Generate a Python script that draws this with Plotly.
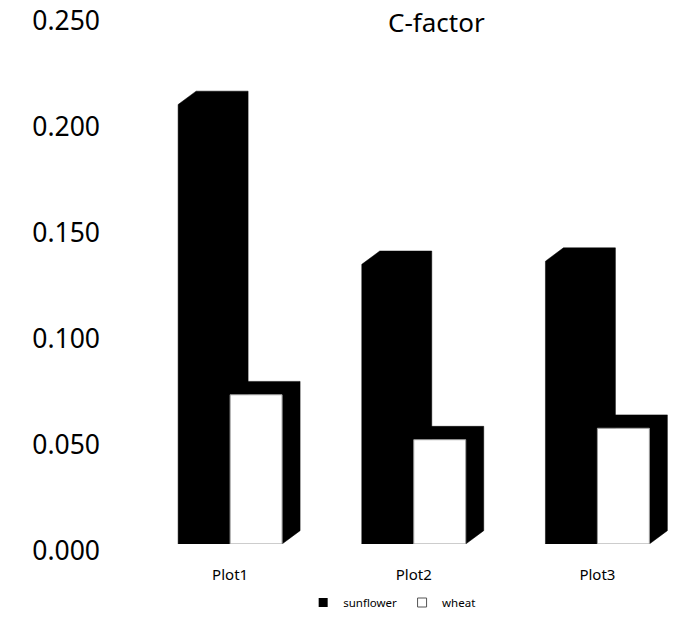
import plotly.graph_objects as go

# Chart data
categories = ["Plot1", "Plot2", "Plot3"]
sunflower = [0.2073, 0.1319, 0.1334]
wheat = [0.0704, 0.0492, 0.0546]
y_ticks = [0.0, 0.05, 0.10, 0.15, 0.20, 0.25]

# Column geometry (axis units): face width and the oblique depth offset
BAR_W = 0.283
DEPTH_X = 0.098
DEPTH_Y = 0.0063

FONT = "Noto Sans"


def solid_prism(x0, x1, v):
    """Outline of a column drawn with its top and right side visible."""
    xs = [x0, x0, x0 + DEPTH_X, x1 + DEPTH_X, x1 + DEPTH_X, x1, x0]
    ys = [0, v, v + DEPTH_Y, v + DEPTH_Y, DEPTH_Y, 0, 0]
    return xs, ys


def depth_only(x0, x1, v):
    """Top and right side of a column (L-shaped band)."""
    xs = [x0, x0 + DEPTH_X, x1 + DEPTH_X, x1 + DEPTH_X, x1, x1, x0]
    ys = [v, v + DEPTH_Y, v + DEPTH_Y, DEPTH_Y, 0, v, v]
    return xs, ys


def join(polys):
    xs, ys = [], []
    for px, py in polys:
        xs += px + [None]
        ys += py + [None]
    return xs, ys


fig = go.Figure()

# Sunflower columns: solid black prisms left of each category centre
sx, sy = join([solid_prism(i - BAR_W, i, v) for i, v in enumerate(sunflower)])
fig.add_trace(go.Scatter(
    x=sx, y=sy, mode="lines", fill="toself", fillcolor="black",
    line=dict(color="black", width=0.5), hoverinfo="skip", showlegend=False))

# Wheat columns: black top/side, white front face
wx, wy = join([depth_only(i, i + BAR_W, v) for i, v in enumerate(wheat)])
fig.add_trace(go.Scatter(
    x=wx, y=wy, mode="lines", fill="toself", fillcolor="black",
    line=dict(color="black", width=0.5), hoverinfo="skip", showlegend=False))

fx, fy = join([([i, i, i + BAR_W, i + BAR_W, i], [0, v, v, 0, 0])
               for i, v in enumerate(wheat)])
fig.add_trace(go.Scatter(
    x=fx, y=fy, mode="lines", fill="toself", fillcolor="white",
    line=dict(color="#9a9a9a", width=1), hoverinfo="skip", showlegend=False))

# Legend entries
fig.add_trace(go.Scatter(
    x=[None], y=[None], mode="markers", name="sunflower",
    marker=dict(symbol="square", size=9, color="black")))
fig.add_trace(go.Scatter(
    x=[None], y=[None], mode="markers", name="wheat",
    marker=dict(symbol="square", size=9, color="white",
                line=dict(color="#555555", width=1))))

fig.update_layout(
    width=676, height=617,
    margin=dict(l=150, r=0, t=14, b=69),
    paper_bgcolor="white", plot_bgcolor="white",
    font=dict(family=FONT, color="black"),
    showlegend=True,
    legend=dict(orientation="h", x=0.4604, xanchor="center",
                y=-0.1105, yanchor="middle",
                font=dict(size=11.5, family=FONT, color="black"),
                itemwidth=30, bgcolor="rgba(0,0,0,0)"),
    annotations=[dict(text="C-factor", x=0.545, y=0.985,
                      xref="paper", yref="paper", showarrow=False,
                      xanchor="center", yanchor="middle",
                      font=dict(size=26, family=FONT, color="black"))],
)

fig.update_xaxes(
    range=[-0.4362, 2.428], tickvals=list(range(len(categories))),
    ticktext=categories, showgrid=False, zeroline=False, showline=False,
    ticks="", ticklabelstandoff=20,
    tickfont=dict(size=15, family=FONT, color="black"))

fig.update_yaxes(
    range=[0, 0.25], tickvals=y_ticks, tickformat=".3f",
    showgrid=False, zeroline=False, showline=False, ticks="",
    ticklabelstandoff=49, ticklabelshift=7,
    tickfont=dict(size=26.5, family=FONT, color="black"))

fig.write_html("out.html")
